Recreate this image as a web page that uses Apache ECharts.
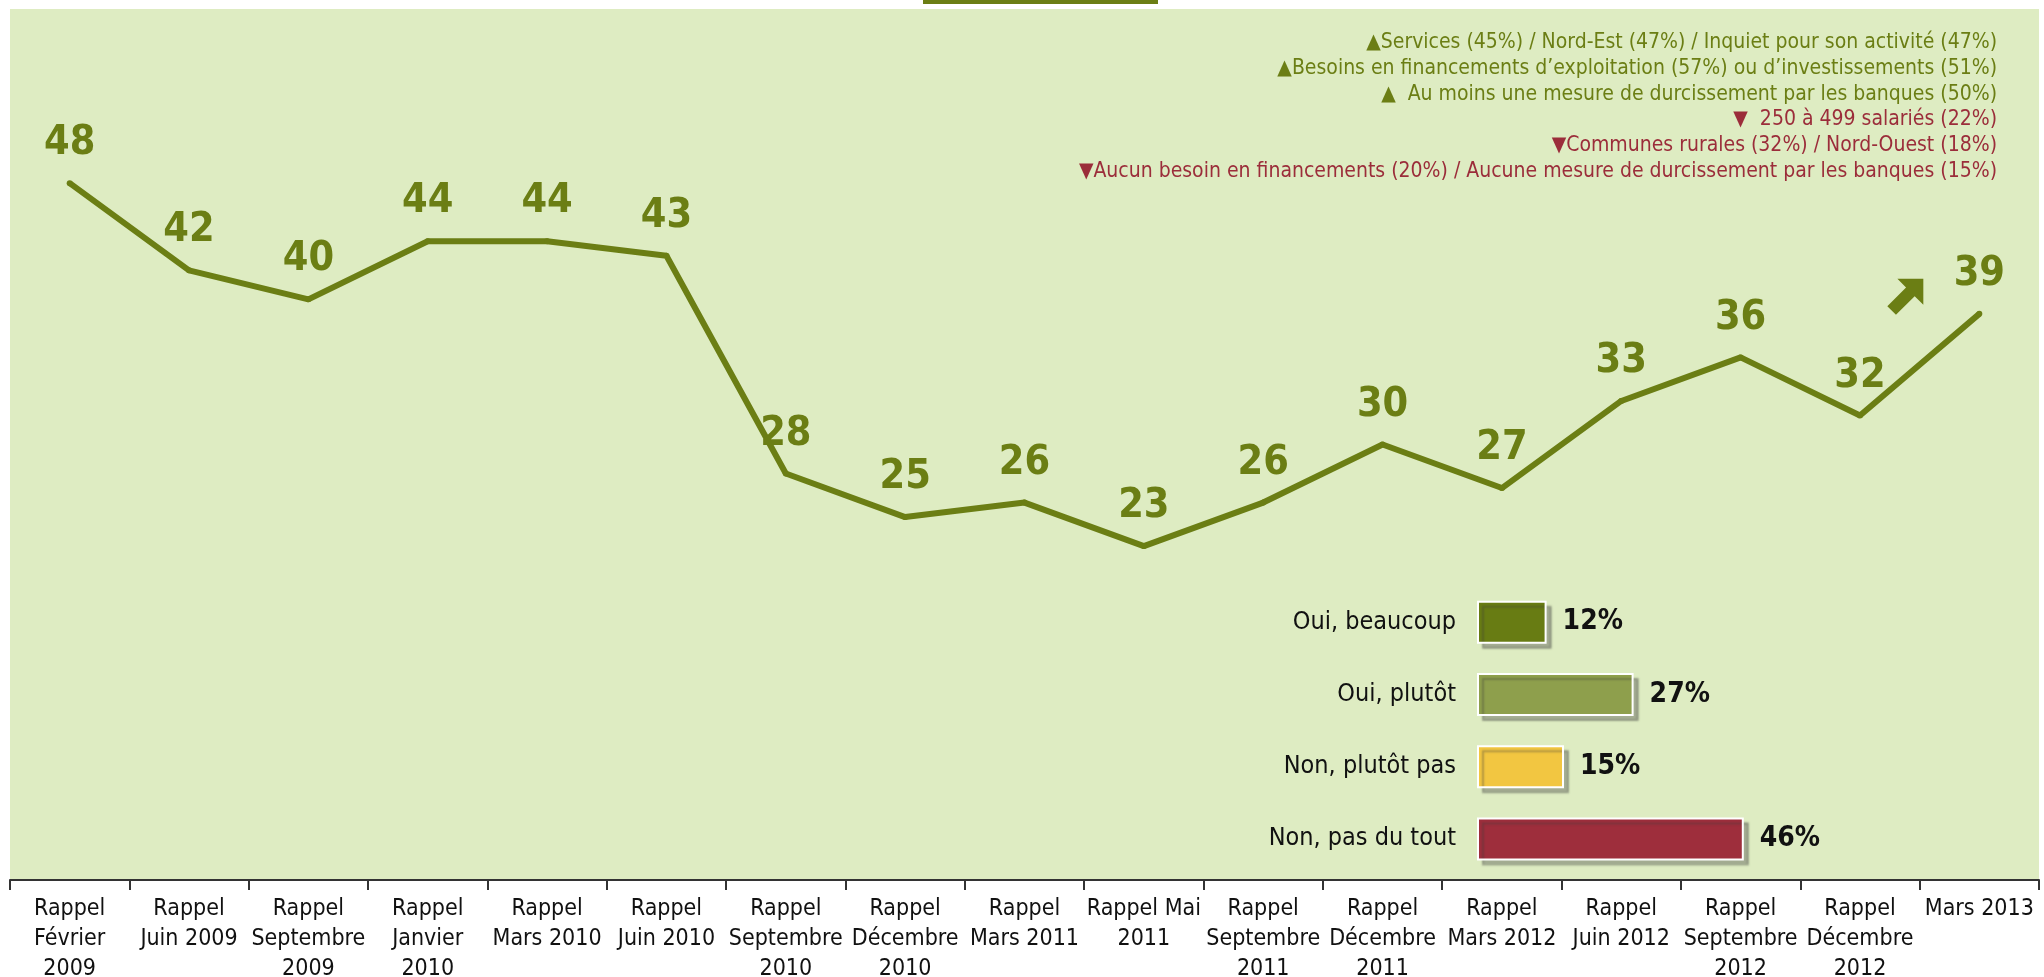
<!DOCTYPE html>
<html>
<head>
<meta charset="utf-8">
<script src="https://cdn.jsdelivr.net/npm/echarts@6/dist/echarts.min.js"></script>
<style>
  html, body { margin: 0; padding: 0; background: #fff; }
  #main { width: 2044px; height: 977px; }
</style>
</head>
<body>
<div id="main"></div>
<script>
// vagues d'enquête
const waves = [
  'Rappel\nFévrier\n2009', 'Rappel\nJuin 2009', 'Rappel\nSeptembre\n2009', 'Rappel\nJanvier\n2010',
  'Rappel\nMars 2010', 'Rappel\nJuin 2010', 'Rappel\nSeptembre\n2010', 'Rappel\nDécembre\n2010',
  'Rappel\nMars 2011', 'Rappel Mai\n2011', 'Rappel\nSeptembre\n2011', 'Rappel\nDécembre\n2011',
  'Rappel\nMars 2012', 'Rappel\nJuin 2012', 'Rappel\nSeptembre\n2012', 'Rappel\nDécembre\n2012',
  'Mars 2013'
]
const trend = [48, 42, 40, 44, 44, 43, 28, 25, 26, 23, 26, 30, 27, 33, 36, 32, 39]

// répartition de la dernière vague
const answers = ['Oui, beaucoup', 'Oui, plutôt', 'Non, plutôt pas', 'Non, pas du tout']
const answerValues = [12, 27, 15, 46]
const answerColors = ['#687C13', '#8E9F4C', '#F2C641', '#9E2E3C']

// écarts significatifs
const notesUp = [
  '▲Services (45%) / Nord-Est (47%) / Inquiet pour son activité (47%)',
  '▲Besoins en financements d’exploitation (57%) ou d’investissements (51%)',
  '▲  Au moins une mesure de durcissement par les banques (50%)'
]
const notesDown = [
  '▼  250 à 499 salariés (22%)',
  '▼Communes rurales (32%) / Nord-Ouest (18%)',
  '▼Aucun besoin en financements (20%) / Aucune mesure de durcissement par les banques (15%)'
]

const OLIVE = '#6B7E14'
const RED = '#9B2D3A'
const FONT = '"DejaVu Sans Condensed", "DejaVu Sans", sans-serif'

const chart = echarts.init(document.getElementById('main'))

const noteItems = []
notesUp.concat(notesDown).forEach(function (txt, i) {
  noteItems.push({
    type: 'text',
    right: 47,
    top: 32 + i * 25.8,
    style: {
      text: txt,
      fill: i < notesUp.length ? OLIVE : RED,
      font: '21px ' + FONT,
      textAlign: 'right'
    }
  })
})

const option = {
  backgroundColor: '#FFFFFF',
  animation: false,
  graphic: [
    { type: 'rect', left: 923, top: 0, shape: { width: 235, height: 4 }, style: { fill: '#6B7E14' } }
  ].concat(noteItems),
  grid: [
    {
      left: 10, right: 5, top: 9, bottom: 97,
      show: true, backgroundColor: '#DEECC2', borderWidth: 0,
      containLabel: false, outerBoundsMode: 'none'
    },
    { left: 1477, top: 586, width: 464, height: 289, containLabel: false, outerBoundsMode: 'none' }
  ],
  xAxis: [
    {
      type: 'category',
      gridIndex: 0,
      data: waves,
      axisLine: { lineStyle: { color: '#333', width: 2 } },
      axisTick: { show: true, length: 10, lineStyle: { color: '#333', width: 2 } },
      axisLabel: {
        interval: 0,
        margin: 14,
        color: '#111',
        fontFamily: FONT,
        fontSize: 23,
        lineHeight: 30
      }
    },
    { type: 'value', gridIndex: 1, min: 0, max: 80, show: false }
  ],
  yAxis: [
    { type: 'value', gridIndex: 0, min: 0, max: 60, show: false },
    {
      type: 'category',
      gridIndex: 1,
      data: answers,
      inverse: true,
      axisLine: { show: false },
      axisTick: { show: false },
      axisLabel: { margin: 21, color: '#111', fontFamily: FONT, fontSize: 25 }
    }
  ],
  series: [
    {
      type: 'line',
      xAxisIndex: 0,
      yAxisIndex: 0,
      data: trend,
      symbol: 'circle',
      symbolSize: 6,
      itemStyle: { color: OLIVE },
      lineStyle: { color: OLIVE, width: 6 },
      label: {
        show: true,
        position: 'top',
        distance: 16,
        color: OLIVE,
        fontFamily: FONT,
        fontWeight: 'bold',
        fontSize: 41
      },
      markPoint: {
        symbol: 'path://M28 0 L100 0 L100 72 L76 48 L24 100 L0 76 L52 24 Z',
        symbolSize: 36,
        symbolOffset: [-74, -17],
        itemStyle: { color: OLIVE },
        label: { show: false },
        data: [{ coord: [waves.length - 1, trend[trend.length - 1]] }]
      }
    },
    {
      type: 'bar',
      xAxisIndex: 1,
      yAxisIndex: 1,
      barWidth: 43,
      data: answerValues.map(function (v, i) {
        return { value: v, itemStyle: { color: answerColors[i] } }
      }),
      itemStyle: {
        borderColor: '#FFFFFF',
        borderWidth: 2,
        shadowColor: 'rgba(60,60,60,0.35)',
        shadowOffsetX: 5,
        shadowOffsetY: 5,
        shadowBlur: 2
      },
      label: {
        show: true,
        position: 'right',
        distance: 16,
        color: '#111',
        fontFamily: FONT,
        fontWeight: 'bold',
        fontSize: 28,
        formatter: '{c}%'
      }
    }
  ]
}

chart.setOption(option)
</script>
</body>
</html>
